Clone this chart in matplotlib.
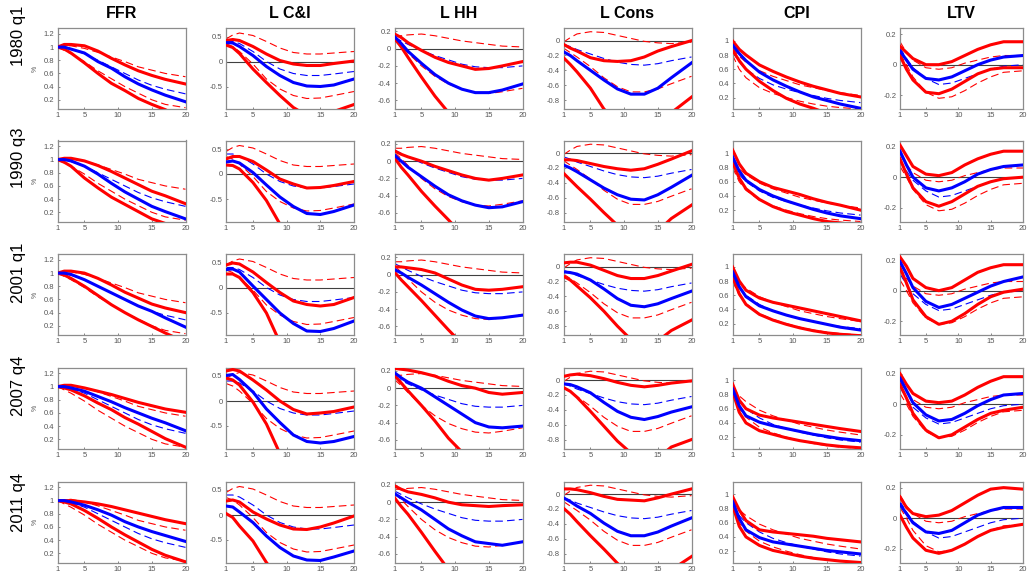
import matplotlib
matplotlib.use("Agg")
import matplotlib.pyplot as plt
from matplotlib.ticker import FixedLocator, FuncFormatter

plt.rcParams["font.family"] = ["Liberation Sans", "DejaVu Sans"]
plt.rcParams["axes.unicode_minus"] = False
plt.rcParams["lines.scale_dashes"] = False

horizon = [1, 2, 3, 5, 7, 9, 11, 13, 15, 17, 20]
variables = ["FFR", "L C&I", "L HH", "L Cons", "CPI", "LTV"]
dates = ["1980 q1", "1990 q3", "2001 q1", "2007 q4", "2011 q4"]

# ---- FFR ----
ffr_hi = [
    [1.00, 1.04, 1.04, 1.02, 0.94, 0.83, 0.73, 0.64, 0.57, 0.51, 0.44],
    [1.00, 1.02, 1.02, 0.98, 0.91, 0.82, 0.72, 0.62, 0.52, 0.45, 0.33],
    [1.00, 1.03, 1.03, 1.00, 0.92, 0.82, 0.71, 0.62, 0.53, 0.47, 0.40],
    [1.00, 1.02, 1.02, 0.98, 0.93, 0.88, 0.82, 0.76, 0.71, 0.66, 0.61],
    [1.00, 1.00, 1.00, 0.98, 0.95, 0.91, 0.86, 0.81, 0.76, 0.71, 0.65],
]
ffr_med = [
    [1.00, 1.00, 0.97, 0.91, 0.78, 0.68, 0.55, 0.44, 0.35, 0.27, 0.17],
    [1.00, 1.00, 0.98, 0.90, 0.78, 0.64, 0.51, 0.40, 0.29, 0.21, 0.10],
    [1.00, 1.00, 0.98, 0.90, 0.80, 0.70, 0.60, 0.50, 0.42, 0.32, 0.18],
    [1.00, 1.00, 0.98, 0.93, 0.85, 0.77, 0.68, 0.60, 0.52, 0.45, 0.33],
    [1.00, 1.00, 0.98, 0.93, 0.86, 0.78, 0.68, 0.60, 0.53, 0.47, 0.38],
]
ffr_lo = [
    [1.00, 0.97, 0.91, 0.76, 0.60, 0.45, 0.34, 0.22, 0.13, 0.05, -0.10],
    [1.00, 0.96, 0.90, 0.72, 0.57, 0.43, 0.32, 0.21, 0.10, 0.03, -0.10],
    [1.00, 0.97, 0.92, 0.80, 0.66, 0.52, 0.40, 0.29, 0.19, 0.09, -0.05],
    [1.00, 0.98, 0.95, 0.86, 0.75, 0.65, 0.53, 0.43, 0.32, 0.21, 0.08],
    [1.00, 0.98, 0.95, 0.85, 0.73, 0.60, 0.48, 0.37, 0.26, 0.17, 0.07],
]
ffr_bench_hi = [1.00, 1.01, 1.02, 0.98, 0.92, 0.85, 0.78, 0.70, 0.65, 0.60, 0.55]
ffr_bench_med = [1.00, 0.99, 0.97, 0.90, 0.80, 0.70, 0.60, 0.50, 0.42, 0.36, 0.29]
ffr_bench_lo = [1.00, 0.95, 0.90, 0.78, 0.64, 0.52, 0.40, 0.30, 0.20, 0.13, 0.08]

# ---- L C&I ----
cni_hi = [
    [0.42, 0.44, 0.42, 0.30, 0.15, 0.02, -0.05, -0.08, -0.08, -0.04, 0.01],
    [0.30, 0.35, 0.35, 0.25, 0.08, -0.10, -0.20, -0.28, -0.27, -0.23, -0.15],
    [0.45, 0.49, 0.47, 0.31, 0.10, -0.10, -0.27, -0.34, -0.37, -0.34, -0.20],
    [0.60, 0.63, 0.60, 0.42, 0.22, 0.00, -0.17, -0.26, -0.24, -0.21, -0.12],
    [0.28, 0.30, 0.26, 0.06, -0.08, -0.20, -0.28, -0.29, -0.24, -0.16, -0.02],
]
cni_med = [
    [0.38, 0.37, 0.30, 0.12, -0.10, -0.28, -0.42, -0.49, -0.50, -0.47, -0.35],
    [0.24, 0.26, 0.22, 0.03, -0.22, -0.46, -0.65, -0.79, -0.81, -0.75, -0.62],
    [0.36, 0.37, 0.31, 0.03, -0.24, -0.51, -0.72, -0.87, -0.88, -0.82, -0.67],
    [0.51, 0.53, 0.43, 0.18, -0.16, -0.43, -0.68, -0.81, -0.84, -0.81, -0.71],
    [0.18, 0.16, 0.06, -0.15, -0.42, -0.65, -0.82, -0.90, -0.91, -0.84, -0.72],
]
cni_lo = [
    [0.33, 0.28, 0.16, -0.15, -0.42, -0.68, -0.92, -1.08, -1.12, -1.00, -0.86],
    [0.18, 0.17, 0.10, -0.17, -0.53, -1.00, -1.30, -1.50, -1.50, -1.45, -1.35],
    [0.27, 0.27, 0.20, -0.10, -0.51, -1.10, -1.40, -1.60, -1.60, -1.50, -1.40],
    [0.46, 0.42, 0.32, -0.02, -0.46, -1.05, -1.40, -1.60, -1.60, -1.50, -1.40],
    [0.03, -0.05, -0.22, -0.52, -0.95, -1.30, -1.60, -1.70, -1.70, -1.60, -1.50],
]
cni_bench_hi = [0.45, 0.53, 0.57, 0.52, 0.40, 0.27, 0.18, 0.15, 0.15, 0.17, 0.20]
cni_bench_med = [0.40, 0.40, 0.36, 0.20, 0.00, -0.15, -0.24, -0.28, -0.28, -0.25, -0.20]
cni_bench_lo = [0.35, 0.30, 0.20, -0.05, -0.35, -0.55, -0.68, -0.74, -0.73, -0.68, -0.60]

# ---- L HH ----
hh_hi = [
    [0.17, 0.13, 0.07, -0.02, -0.10, -0.16, -0.20, -0.24, -0.23, -0.20, -0.15],
    [0.12, 0.08, 0.05, 0.00, -0.06, -0.11, -0.16, -0.20, -0.22, -0.20, -0.16],
    [0.09, 0.09, 0.08, 0.06, 0.02, -0.05, -0.12, -0.17, -0.18, -0.17, -0.14],
    [0.23, 0.22, 0.21, 0.18, 0.14, 0.08, 0.03, 0.00, -0.05, -0.07, -0.05],
    [0.19, 0.15, 0.12, 0.09, 0.05, 0.00, -0.03, -0.04, -0.05, -0.04, -0.03],
]
hh_med = [
    [0.14, 0.06, -0.03, -0.17, -0.30, -0.40, -0.47, -0.51, -0.51, -0.48, -0.41],
    [0.07, 0.00, -0.07, -0.18, -0.29, -0.39, -0.46, -0.51, -0.54, -0.53, -0.47],
    [0.06, 0.02, -0.03, -0.12, -0.22, -0.32, -0.41, -0.48, -0.51, -0.50, -0.47],
    [0.18, 0.12, 0.07, 0.00, -0.10, -0.20, -0.30, -0.40, -0.45, -0.46, -0.44],
    [0.10, 0.05, 0.00, -0.09, -0.20, -0.31, -0.39, -0.46, -0.48, -0.50, -0.46],
]
hh_lo = [
    [0.12, 0.02, -0.10, -0.33, -0.55, -0.74, -0.90, -1.00, -1.05, -1.05, -1.00],
    [0.04, -0.07, -0.16, -0.35, -0.52, -0.68, -0.85, -1.00, -1.05, -1.05, -1.00],
    [0.03, -0.06, -0.14, -0.30, -0.47, -0.64, -0.80, -0.95, -1.00, -1.00, -1.00],
    [0.15, 0.06, -0.03, -0.20, -0.38, -0.58, -0.74, -0.88, -0.95, -1.00, -1.00],
    [0.05, -0.05, -0.14, -0.35, -0.57, -0.78, -0.92, -1.00, -1.05, -1.05, -1.00],
]
hh_bench_hi = [0.15, 0.15, 0.16, 0.17, 0.15, 0.12, 0.09, 0.07, 0.05, 0.03, 0.02]
hh_bench_med = [0.13, 0.09, 0.05, -0.02, -0.08, -0.13, -0.18, -0.21, -0.22, -0.22, -0.20]
hh_bench_lo = [0.10, 0.03, -0.05, -0.20, -0.32, -0.41, -0.47, -0.51, -0.52, -0.50, -0.46]

# ---- L Cons ----
cons_hi = [
    [-0.05, -0.10, -0.14, -0.23, -0.27, -0.28, -0.27, -0.22, -0.14, -0.08, 0.00],
    [-0.09, -0.09, -0.10, -0.14, -0.18, -0.21, -0.23, -0.21, -0.15, -0.08, 0.03],
    [0.05, 0.06, 0.06, 0.02, -0.05, -0.12, -0.16, -0.16, -0.12, -0.06, 0.03],
    [0.05, 0.07, 0.08, 0.06, 0.02, -0.03, -0.07, -0.09, -0.07, -0.04, -0.01],
    [0.07, 0.07, 0.06, 0.02, -0.03, -0.07, -0.08, -0.09, -0.05, 0.00, 0.07],
]
cons_med = [
    [-0.15, -0.20, -0.27, -0.40, -0.53, -0.65, -0.72, -0.72, -0.64, -0.50, -0.30],
    [-0.16, -0.20, -0.25, -0.36, -0.47, -0.56, -0.62, -0.63, -0.56, -0.46, -0.30],
    [-0.07, -0.08, -0.10, -0.18, -0.30, -0.43, -0.52, -0.54, -0.50, -0.43, -0.33],
    [-0.05, -0.06, -0.09, -0.17, -0.30, -0.42, -0.50, -0.53, -0.49, -0.43, -0.36],
    [-0.05, -0.10, -0.16, -0.26, -0.39, -0.50, -0.56, -0.56, -0.51, -0.43, -0.32],
]
cons_lo = [
    [-0.23, -0.32, -0.42, -0.64, -0.92, -1.10, -1.25, -1.25, -1.15, -0.97, -0.76],
    [-0.27, -0.36, -0.45, -0.62, -0.80, -0.97, -1.15, -1.20, -1.05, -0.88, -0.70],
    [-0.13, -0.18, -0.26, -0.42, -0.60, -0.80, -0.98, -1.10, -1.00, -0.86, -0.72],
    [-0.10, -0.15, -0.23, -0.42, -0.62, -0.82, -0.98, -1.10, -1.05, -0.90, -0.80],
    [-0.19, -0.27, -0.37, -0.56, -0.74, -0.93, -1.10, -1.15, -1.08, -1.02, -0.84],
]
cons_bench_hi = [-0.02, 0.04, 0.09, 0.12, 0.11, 0.07, 0.03, -0.01, -0.03, -0.04, -0.02]
cons_bench_med = [-0.05, -0.08, -0.12, -0.18, -0.24, -0.29, -0.32, -0.33, -0.31, -0.27, -0.22]
cons_bench_lo = [-0.10, -0.16, -0.22, -0.35, -0.50, -0.62, -0.69, -0.69, -0.65, -0.58, -0.48]

# ---- CPI ----
cpi_hi = [
    [1.00, 0.88, 0.80, 0.66, 0.57, 0.49, 0.42, 0.36, 0.31, 0.26, 0.21],
    [1.05, 0.85, 0.72, 0.60, 0.52, 0.47, 0.42, 0.36, 0.31, 0.27, 0.20],
    [1.00, 0.80, 0.67, 0.56, 0.50, 0.46, 0.42, 0.38, 0.34, 0.30, 0.24],
    [0.95, 0.72, 0.60, 0.51, 0.47, 0.44, 0.41, 0.38, 0.35, 0.32, 0.28],
    [0.97, 0.78, 0.63, 0.50, 0.47, 0.45, 0.43, 0.41, 0.38, 0.36, 0.33],
]
cpi_med = [
    [0.94, 0.82, 0.72, 0.56, 0.45, 0.36, 0.28, 0.21, 0.16, 0.11, 0.05],
    [0.95, 0.75, 0.62, 0.49, 0.40, 0.33, 0.27, 0.21, 0.16, 0.12, 0.08],
    [0.93, 0.72, 0.58, 0.45, 0.38, 0.32, 0.27, 0.23, 0.19, 0.15, 0.11],
    [0.88, 0.64, 0.50, 0.41, 0.36, 0.32, 0.28, 0.24, 0.21, 0.18, 0.15],
    [0.90, 0.66, 0.50, 0.39, 0.33, 0.30, 0.27, 0.24, 0.21, 0.19, 0.16],
]
cpi_lo = [
    [0.87, 0.72, 0.60, 0.43, 0.30, 0.19, 0.11, 0.05, -0.02, -0.07, -0.12],
    [0.88, 0.65, 0.50, 0.35, 0.25, 0.18, 0.13, 0.08, 0.04, 0.02, -0.02],
    [0.86, 0.62, 0.47, 0.33, 0.25, 0.19, 0.14, 0.10, 0.07, 0.05, 0.03],
    [0.85, 0.55, 0.40, 0.29, 0.24, 0.19, 0.15, 0.12, 0.09, 0.07, 0.05],
    [0.85, 0.55, 0.40, 0.28, 0.21, 0.17, 0.13, 0.10, 0.08, 0.06, 0.04],
]
cpi_bench_hi = [0.90, 0.78, 0.70, 0.58, 0.50, 0.44, 0.38, 0.34, 0.30, 0.27, 0.23]
cpi_bench_med = [0.85, 0.70, 0.60, 0.47, 0.38, 0.32, 0.27, 0.23, 0.19, 0.16, 0.13]
cpi_bench_lo = [0.80, 0.60, 0.48, 0.34, 0.26, 0.20, 0.15, 0.11, 0.08, 0.06, 0.04]

# ---- LTV ----
ltv_hi = [
    [0.12, 0.08, 0.04, 0.00, 0.00, 0.02, 0.06, 0.10, 0.13, 0.15, 0.15],
    [0.21, 0.14, 0.07, 0.02, 0.01, 0.03, 0.08, 0.12, 0.15, 0.17, 0.17],
    [0.22, 0.16, 0.08, 0.02, 0.00, 0.02, 0.07, 0.12, 0.15, 0.17, 0.17],
    [0.20, 0.13, 0.07, 0.02, 0.01, 0.02, 0.06, 0.11, 0.15, 0.18, 0.18],
    [0.14, 0.07, 0.03, 0.01, 0.02, 0.05, 0.10, 0.15, 0.19, 0.20, 0.19],
]
ltv_med = [
    [0.09, 0.03, -0.03, -0.09, -0.10, -0.08, -0.04, 0.00, 0.03, 0.05, 0.06],
    [0.17, 0.08, 0.00, -0.07, -0.09, -0.07, -0.03, 0.02, 0.05, 0.07, 0.08],
    [0.19, 0.11, 0.02, -0.07, -0.11, -0.09, -0.05, -0.01, 0.03, 0.06, 0.09],
    [0.17, 0.09, 0.01, -0.07, -0.11, -0.10, -0.06, -0.01, 0.03, 0.06, 0.07],
    [0.09, 0.03, -0.03, -0.09, -0.10, -0.08, -0.03, 0.02, 0.05, 0.07, 0.07],
]
ltv_lo = [
    [0.06, -0.03, -0.10, -0.18, -0.19, -0.16, -0.11, -0.06, -0.03, -0.02, -0.02],
    [0.12, 0.02, -0.07, -0.16, -0.19, -0.16, -0.11, -0.06, -0.03, -0.01, 0.00],
    [0.15, 0.05, -0.06, -0.17, -0.22, -0.20, -0.15, -0.09, -0.04, -0.01, 0.01],
    [0.13, 0.04, -0.06, -0.17, -0.22, -0.20, -0.15, -0.10, -0.06, -0.04, -0.02],
    [0.02, -0.06, -0.13, -0.21, -0.23, -0.21, -0.17, -0.12, -0.08, -0.06, -0.04],
]
ltv_bench_hi = [0.15, 0.08, 0.03, -0.02, -0.03, -0.02, 0.01, 0.03, 0.05, 0.06, 0.06]
ltv_bench_med = [0.11, 0.04, -0.02, -0.09, -0.13, -0.12, -0.09, -0.06, -0.03, -0.01, 0.00]
ltv_bench_lo = [0.07, 0.00, -0.08, -0.18, -0.22, -0.21, -0.17, -0.12, -0.08, -0.05, -0.04]

# per column: (hi, med, lo, bench hi, bench med, bench lo)
panels = [
    (ffr_hi, ffr_med, ffr_lo, ffr_bench_hi, ffr_bench_med, ffr_bench_lo),
    (cni_hi, cni_med, cni_lo, cni_bench_hi, cni_bench_med, cni_bench_lo),
    (hh_hi, hh_med, hh_lo, hh_bench_hi, hh_bench_med, hh_bench_lo),
    (cons_hi, cons_med, cons_lo, cons_bench_hi, cons_bench_med, cons_bench_lo),
    (cpi_hi, cpi_med, cpi_lo, cpi_bench_hi, cpi_bench_med, cpi_bench_lo),
    (ltv_hi, ltv_med, ltv_lo, ltv_bench_hi, ltv_bench_med, ltv_bench_lo),
]
ylims = [(0.06, 1.29), (-0.95, 0.67), (-0.70, 0.24), (-0.92, 0.17), (0.04, 1.18), (-0.29, 0.24)]
yticks = [
    [0.2, 0.4, 0.6, 0.8, 1.0, 1.2],
    [-0.5, 0, 0.5],
    [-0.6, -0.4, -0.2, 0, 0.2],
    [-0.8, -0.6, -0.4, -0.2, 0],
    [0.2, 0.4, 0.6, 0.8, 1.0],
    [-0.2, 0, 0.2],
]
zero_line = [False, True, True, True, False, True]

# layout in pixels
W, H = 1030, 582
col_left = [57.5, 226, 394.5, 563.5, 732.5, 900]
col_w = [128, 128, 128, 128, 128, 123]
row_top = [28, 140.5, 254, 367.5, 481.5]
ax_h = 81
label_y = [36, 158, 273, 386, 502]

fig = plt.figure(figsize=(W / 100, H / 100), dpi=100)
fmt = FuncFormatter(lambda v, p: "%g" % round(v, 2))
dash = (0, (5.5, 3))

for r in range(5):
    for c in range(6):
        ax = fig.add_axes([col_left[c] / W, 1 - (row_top[r] + ax_h) / H, col_w[c] / W, ax_h / H])
        hi, med, lo, bhi, bmed, blo = panels[c]
        if zero_line[c]:
            ax.axhline(0, color="#404040", lw=0.8, zorder=1)
        ax.plot(horizon, bhi, color="red", lw=0.8, ls=dash, zorder=2)
        ax.plot(horizon, blo, color="red", lw=0.8, ls=dash, zorder=2)
        ax.plot(horizon, bmed, color="blue", lw=0.8, ls=dash, zorder=2)
        ax.plot(horizon, hi[r], color="red", lw=2.2, zorder=3)
        ax.plot(horizon, lo[r], color="red", lw=2.2, zorder=3)
        ax.plot(horizon, med[r], color="blue", lw=2.2, zorder=4)
        ax.set_xlim(1, 20)
        ax.set_ylim(*ylims[c])
        ax.xaxis.set_major_locator(FixedLocator([1, 5, 10, 15, 20]))
        ax.yaxis.set_major_locator(FixedLocator(yticks[c]))
        ax.yaxis.set_major_formatter(fmt)
        ax.tick_params(labelsize=5.5, colors="#555555", length=1.5, width=0.5,
                       direction="in", pad=2.5)
        for s in ax.spines.values():
            s.set_color("#8c8c8c")
            s.set_linewidth(0.9)
        if r == 0:
            fig.text((col_left[c] + col_w[c] / 2) / W, 1 - 14 / H, variables[c],
                     ha="center", va="center", fontsize=11.5, fontweight="bold")
        if c == 0:
            fig.text(35 / W, 1 - (row_top[r] + ax_h / 2) / H, "%", rotation=90,
                     ha="center", va="center", fontsize=5, color="#555555")
    fig.text(18.5 / W, 1 - label_y[r] / H, dates[r], rotation=90,
             ha="center", va="center", fontsize=12)

fig.savefig("out.png", dpi=100)
